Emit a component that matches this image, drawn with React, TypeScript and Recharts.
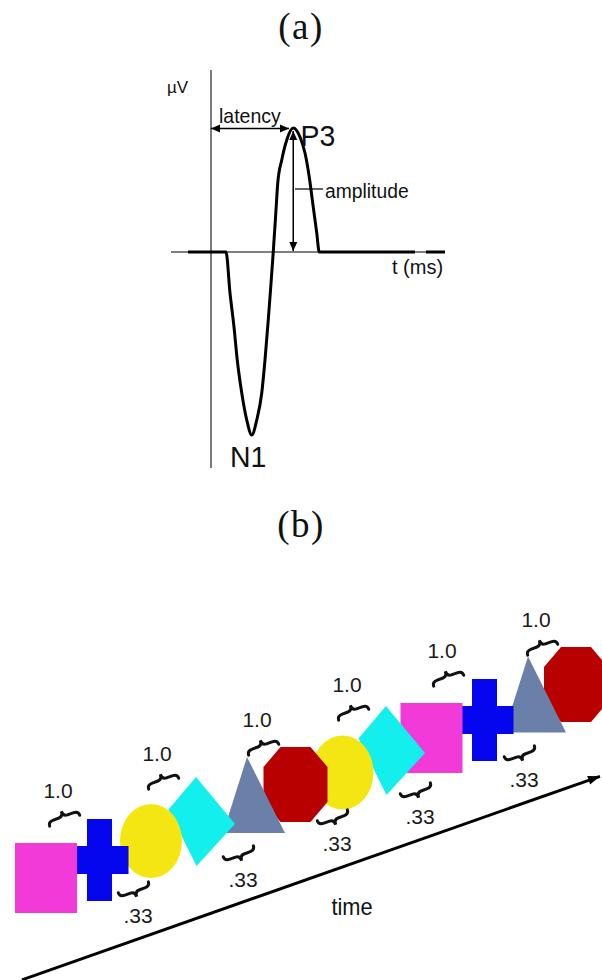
import React from "react";
import {
  LineChart,
  Line,
  XAxis,
  YAxis,
  ReferenceLine,
  ReferenceDot,
  ScatterChart,
  Scatter,
} from "recharts";

/* ---------- (a) schematic ERP: time (ms) vs amplitude (µV) ---------- */
const ERP_T = [
  -92, 60, 76, 92, 105, 123, 143, 163, 183, 203, 216, 229, 239, 249, 260, 267,
  283, 303, 329, 356, 376, 393, 409, 423, 433, 816, 838, 860, 936,
];
const ERP_V: (number | null)[] = [
  0, 0, -4.1, -7.5, -10.8, -14.1, -16.8, -18.3, -16.8, -14.1, -10.8, -6.8, -3.5,
  0, 4.2, 6.9, 9.2, 11.2, 12.4, 11.5, 9.9, 7.5, 4.5, 1.9, 0, 0, null, 0, 0,
];
const T_AXIS = [-160, 936];
const V_AXIS = [-21.6, 18.2];
const P3_LATENCY = 329;
const P3_AMPLITUDE = 12.4;

/* ---------- (b) stimulus stream ---------- */
const STIM_SHAPE = [
  "square", "cross", "circle", "diamond", "triangle", "octagon",
  "circle", "diamond", "square", "cross", "triangle", "octagon",
];
const STIM_X = [46, 99.5, 151, 199, 254, 295.5, 342.5, 389, 431.5, 484.5, 535, 576];
const STIM_Y = [102, 120, 139, 161, 185, 195.5, 207.5, 232, 242, 260, 285.5, 295.5];

const ON_LABEL = "1.0";
const ON_X = [58, 157, 257, 347, 442, 536];
const ON_Y = [182, 219, 253, 288, 322, 353];
const ISI_LABEL = ".33";
const ISI_X = [138, 243, 337, 420, 524];
const ISI_Y = [57, 93, 129, 156, 193];
const TIME_X = [22, 600];
const TIME_Y = [0.2, 203.7];

const COLORS: Record<string, string> = {
  square: "#f23ad8",
  cross: "#0505ee",
  circle: "#f4e612",
  diamond: "#12efec",
  triangle: "#6b80a8",
  octagon: "#b90000",
};

const erpData = ERP_T.map((t, i) => ({ t, v: ERP_V[i] }));
const stimData = STIM_SHAPE.map((shape, i) => ({ shape, x: STIM_X[i], y: STIM_Y[i] }));
const durData = [
  ...ON_X.map((x, i) => ({ x, y: ON_Y[i], text: ON_LABEL, kind: "over" })),
  ...ISI_X.map((x, i) => ({ x, y: ISI_Y[i], text: ISI_LABEL, kind: "under" })),
];

const SANS = "'Liberation Sans', Arial, sans-serif";
const SERIF = "'Liberation Serif', 'Times New Roman', serif";

function head(x: number, y: number, ang: number, len: number, w: number) {
  const bx = x - len * Math.cos(ang);
  const by = y - len * Math.sin(ang);
  const px = (w / 2) * Math.sin(ang);
  const py = (w / 2) * Math.cos(ang);
  return `${x},${y} ${bx + px},${by - py} ${bx - px},${by + py}`;
}

function arrow(p: any, start: boolean, end: boolean, sw: number, len: number, w: number) {
  const { x1, y1, x2, y2 } = p;
  const ang = Math.atan2(y2 - y1, x2 - x1);
  return (
    <g>
      <line x1={x1} y1={y1} x2={x2} y2={y2} stroke="#000" strokeWidth={sw} />
      {end && <polygon points={head(x2, y2, ang, len, w)} fill="#000" />}
      {start && <polygon points={head(x1, y1, ang + Math.PI, len, w)} fill="#000" />}
    </g>
  );
}

function label(text: string, size: number, sx = 1, anchor = "start") {
  return (p: any) => (
    <text
      transform={`translate(${p.cx},${p.cy}) scale(${sx},1)`}
      fontFamily={SANS}
      fontSize={size}
      fill="#111"
      textAnchor={anchor}
    >
      {text}
    </text>
  );
}

function StimShape(props: any) {
  const { cx, cy, payload } = props;
  const fill = COLORS[payload.shape];
  switch (payload.shape) {
    case "square":
      return <rect x={cx - 31} y={cy - 35} width={62} height={70} fill={fill} />;
    case "cross":
      return (
        <g fill={fill}>
          <rect x={cx - 12.5} y={cy - 41} width={25} height={82} />
          <rect x={cx - 29} y={cy - 14} width={58} height={28} />
        </g>
      );
    case "circle":
      return <ellipse cx={cx} cy={cy} rx={31} ry={37} fill={fill} />;
    case "diamond": {
      const pts = [[-3, -42], [36, 5], [-2.5, 47], [-30.5, -9.5]];
      return <polygon points={pts.map(([a, b]) => `${cx + a},${cy + b}`).join(" ")} fill={fill} />;
    }
    case "triangle":
      return (
        <polygon
          points={`${cx - 7},${cy - 38} ${cx + 31},${cy + 38} ${cx - 31},${cy + 38}`}
          fill={fill}
        />
      );
    default: {
      const pts = [[-15, -37.5], [15, -37.5], [32, -17.5], [32, 17.5], [15, 37.5], [-15, 37.5], [-32, 17.5], [-32, -17.5]];
      return <polygon points={pts.map(([a, b]) => `${cx + a},${cy + b}`).join(" ")} fill={fill} />;
    }
  }
}

const BRACE =
  "M -16 5 C -16 1 -13.5 0.5 -10.5 0.5 L -4.5 0.5 C -1.5 0.5 0 -1.5 0 -5 C 0 -1.5 1.5 0.5 4.5 0.5 L 10.5 0.5 C 13.5 0.5 16 1 16 5";

function DurShape(props: any) {
  const { cx, cy, payload } = props;
  const over = payload.kind === "over";
  const bx = over ? cx + 5 : cx - 3;
  const by = over ? cy + 18 : cy - 31;
  return (
    <g>
      <path
        d={BRACE}
        transform={`translate(${bx},${by}) rotate(-20) scale(1,${over ? 1 : -1})`}
        fill="none"
        stroke="#111"
        strokeWidth={3}
        strokeLinecap="round"
      />
      <text x={cx} y={cy} fontFamily={SANS} fontSize={21} fill="#1a1a1a" textAnchor="middle">
        {payload.text}
      </text>
    </g>
  );
}

const title = (text: string, top: number) => (
  <div
    style={{
      position: "absolute",
      left: 0,
      top,
      width: 602,
      textAlign: "center",
      fontFamily: SERIF,
      fontSize: 37,
      lineHeight: "37px",
      letterSpacing: 1.5,
      color: "#111",
    }}
  >
    {text}
  </div>
);

export default function App() {
  return (
    <div style={{ position: "absolute", left: 0, top: 0, width: 602, height: 980, background: "#fff" }}>
      {title("(a)", 8)}
      <div style={{ position: "absolute", left: 0, top: 0 }}>
        <LineChart width={602} height={500} data={erpData} margin={{ top: 0, right: 0, bottom: 0, left: 0 }}>
          <XAxis type="number" dataKey="t" domain={[-844, 1564]} allowDataOverflow hide />
          <YAxis type="number" domain={[-24.8, 25.2]} allowDataOverflow hide />
          <ReferenceLine
            segment={[{ x: T_AXIS[0], y: 0 }, { x: T_AXIS[1], y: 0 }]}
            stroke="#555"
            strokeWidth={1.3}
          />
          <ReferenceLine
            segment={[{ x: 0, y: V_AXIS[0] }, { x: 0, y: V_AXIS[1] }]}
            stroke="#333"
            strokeWidth={1.3}
          />
          <Line
            type="monotone"
            dataKey="v"
            stroke="#000"
            strokeWidth={3}
            strokeLinecap="butt"
            dot={false}
            activeDot={false}
            connectNulls={false}
            isAnimationActive={false}
          />
          <ReferenceLine
            segment={[{ x: 0, y: 12.35 }, { x: P3_LATENCY - 17, y: 12.35 }]}
            shape={(p: any) => arrow(p, true, true, 1.5, 9, 8)}
          />
          <ReferenceLine
            segment={[{ x: P3_LATENCY, y: 0.1 }, { x: P3_LATENCY, y: P3_AMPLITUDE - 0.3 }]}
            shape={(p: any) => arrow(p, true, true, 1.5, 9, 8)}
          />
          <ReferenceLine
            segment={[{ x: P3_LATENCY + 7, y: 6.3 }, { x: 448, y: 6.3 }]}
            stroke="#000"
            strokeWidth={1.2}
          />
          <ReferenceDot x={-176} y={15.9} r={0} shape={label("\u00b5V", 17)} />
          <ReferenceDot x={32} y={12.9} r={0} shape={label("latency", 21, 0.93)} />
          <ReferenceDot x={358} y={10.6} r={0} shape={label("P3", 30, 0.95)} />
          <ReferenceDot x={456} y={5.4} r={0} shape={label("amplitude", 21, 0.92)} />
          <ReferenceDot x={724} y={-2.2} r={0} shape={label("t (ms)", 20)} />
          <ReferenceDot x={76} y={-21.5} r={0} shape={label("N1", 30, 0.95)} />
        </LineChart>
      </div>
      {title("(b)", 506)}
      <div style={{ position: "absolute", left: 0, top: 540 }}>
        <ScatterChart width={602} height={440} margin={{ top: 0, right: 0, bottom: 0, left: 0 }}>
          <XAxis type="number" dataKey="x" domain={[0, 602]} allowDataOverflow hide />
          <YAxis type="number" dataKey="y" domain={[0, 440]} allowDataOverflow hide />
          <ReferenceLine
            segment={[{ x: TIME_X[0], y: TIME_Y[0] }, { x: TIME_X[1], y: TIME_Y[1] }]}
            ifOverflow="visible"
            shape={(p: any) => arrow(p, false, true, 3, 12, 9)}
          />
          <Scatter data={[...stimData].reverse()} shape={StimShape} isAnimationActive={false} />
          <Scatter data={durData} shape={DurShape} isAnimationActive={false} />
          <ReferenceDot x={352} y={65} r={0} shape={label("time", 23, 0.95, "middle")} />
        </ScatterChart>
      </div>
    </div>
  );
}
